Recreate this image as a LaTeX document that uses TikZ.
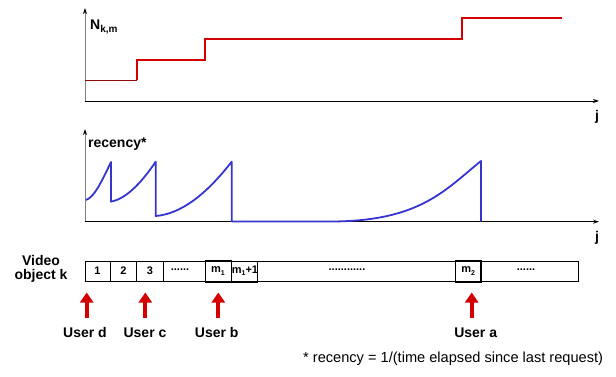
\documentclass[tikz,border=0pt]{standalone}
\usepackage{fontspec}
\setmainfont{Liberation Sans}
\usetikzlibrary{arrows.meta}
\definecolor{stepred}{HTML}{D40000}
\definecolor{darkstep}{HTML}{8E0A0A}
\definecolor{recblue}{HTML}{3535D0}
\definecolor{axisgray}{HTML}{808080}
\tikzset{
  lbl/.style={font=\fontsize{14}{15}\selectfont\bfseries, inner sep=0pt},
  celltxt/.style={font=\fontsize{11}{11}\selectfont\bfseries, inner sep=0pt},
  xaxis/.style={draw=black, line width=0.8pt, -{Stealth[length=6pt,width=4pt]}},
  yaxis/.style={draw=axisgray, line width=1pt, -{Stealth[length=6pt,width=4pt,color=black]}},
  redline/.style={draw=stepred, line width=1.8pt},
  blueline/.style={draw=recblue, line width=1.8pt, line join=round},
  cellbox/.style={draw=black, line width=0.9pt},
  userarrow/.style={draw=stepred, line width=4pt, -{Triangle[width=13pt,length=10pt]}},
}
\begin{document}
\begin{tikzpicture}[x=1pt,y=-1pt]
\useasboundingbox (0,0) rectangle (616,377);
% ---- top chart ----
\coordinate (o1) at (85,101);
\coordinate (y1) at (85,8);
\coordinate (x1) at (599,101);
\draw[yaxis] (o1) -- (y1);
\draw[xaxis] (o1) -- (x1);
\node[lbl, anchor=west] (nlabel) at (90,27) {N\raisebox{-0.35ex}{\fontsize{10}{10}\selectfont k,m}};
\node[lbl] (j1) at (597,117) {j};
\draw[draw=darkstep, line width=1.8pt] (85,80.5) -- (137,80.5);
\draw[redline, line join=miter] (137,80.5) -- (137,60) -- (205,60) -- (205,39.3) -- (461.7,39.3) -- (461.7,18.3) -- (561.7,18.3);
% ---- recency chart ----
\coordinate (o2) at (85,221.7);
\coordinate (y2) at (85,129);
\coordinate (x2) at (599,221.7);
\draw[yaxis] (o2) -- (y2);
\draw[xaxis] (o2) -- (x2);
\node[lbl, anchor=west] (rlabel) at (88,144) {recency*};
\node[lbl] (j2) at (597,238) {j};
\draw[blueline]
  (86,200) .. controls (94,197) and (100,185) .. (111,162)
  -- (111,201.7) .. controls (125,199) and (140,185) .. (155.7,161.7)
  -- (155.7,216) .. controls (180,214) and (205,196) .. (231.7,161.7)
  -- (231.7,221.5) -- (330,221.5) .. controls (420,221.5) and (445,190) .. (481,161)
  -- (481,221.7);
% ---- video object bar ----
\node[lbl, align=center] (vid) at (41,269) {Video\\[-1pt]object k};
\draw[cellbox] (85,261) rectangle (578,281);
\draw[cellbox] (110,261) -- (110,281);
\draw[cellbox] (136.7,261) -- (136.7,281);
\draw[cellbox] (163,261) -- (163,281);
\draw[cellbox, line width=1.1pt] (205.5,261) rectangle (231.7,282);
\draw[cellbox] (231.7,261) rectangle (257,282);
\draw[cellbox, line width=1.1pt] (455.7,261) rectangle (481,282);
\node[celltxt] (c1) at (97.5,271) {1};
\node[celltxt] (c2) at (123.5,271) {2};
\node[celltxt] (c3) at (150,271) {3};
\node[celltxt] (d1) at (180,269.5) {......};
\node[celltxt] (m1) at (218,271) {m\raisebox{-0.4ex}{\fontsize{7}{7}\selectfont 1}};
\node[celltxt] (m1p) at (245,271) {m\raisebox{-0.4ex}{\fontsize{7}{7}\selectfont 1}+1};
\node[celltxt] (d2) at (347,269.5) {............};
\node[celltxt] (m2) at (468.3,271) {m\raisebox{-0.4ex}{\fontsize{7}{7}\selectfont 2}};
\node[celltxt] (d3) at (526,269.5) {......};
% ---- users ----
\node[lbl] (ud) at (85,332.5) {User d};
\node[lbl] (uc) at (145,332.5) {User c};
\node[lbl] (ub) at (216.7,332.5) {User b};
\node[lbl] (ua) at (475.7,332.5) {User a};
\coordinate (ad0) at (86.7,318); \coordinate (ad1) at (86.7,292.5);
\coordinate (ac0) at (145.3,318); \coordinate (ac1) at (145.3,292.5);
\coordinate (ab0) at (218.3,318); \coordinate (ab1) at (218.3,292.5);
\coordinate (aa0) at (471.7,318); \coordinate (aa1) at (471.7,292.5);
\draw[userarrow] (ad0) -- (ad1);
\draw[userarrow] (ac0) -- (ac1);
\draw[userarrow] (ab0) -- (ab1);
\draw[userarrow] (aa0) -- (aa1);
% ---- footnote ----
\node[inner sep=0pt, anchor=west, font=\fontsize{14.6}{15}\selectfont] (foot) at (303,359) {* recency = 1/(time elapsed since last request)};
\end{tikzpicture}
\end{document}
